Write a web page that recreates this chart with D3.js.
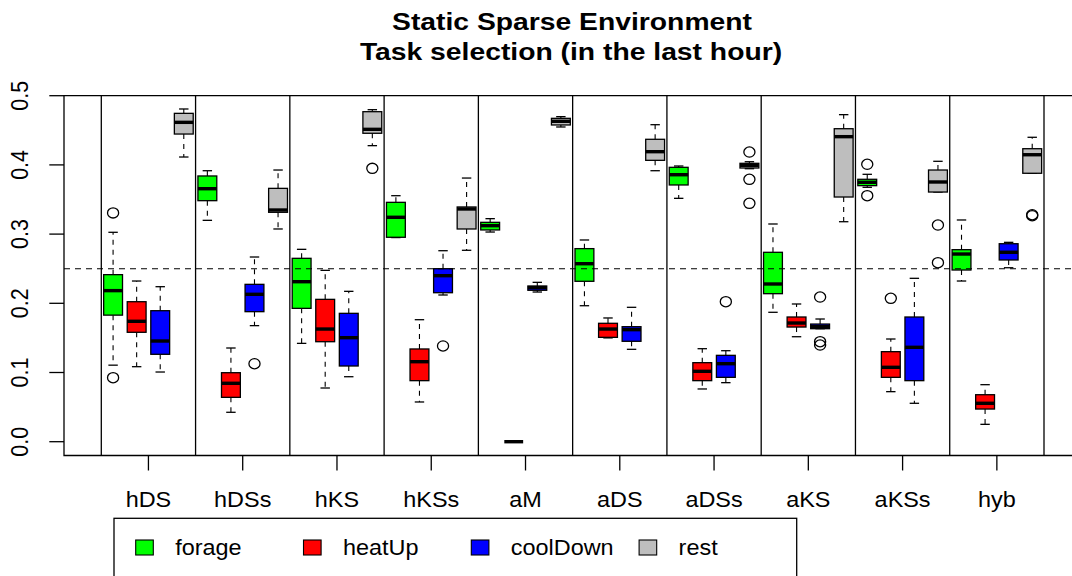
<!DOCTYPE html>
<html>
<head>
<meta charset="utf-8">
<script src="https://cdn.jsdelivr.net/npm/d3@7"></script>
<style>
  html, body { margin: 0; padding: 0; background: #fff; }
  svg { display: block; font-family: "Liberation Sans", Arial, Helvetica, sans-serif; }
</style>
</head>
<body>
<svg id="chart" width="1072" height="576"></svg>
<script>
// Groups (strategies) along the x axis and the four tasks per group
const groups = ["hDS", "hDSs", "hKS", "hKSs", "aM", "aDS", "aDSs", "aKS", "aKSs", "hyb"];
const tasks = ["forage", "heatUp", "coolDown", "rest"];
const taskColors = ["#00ff00", "#ff0000", "#0000ff", "#bebebe"];
const yTicks = [0.0, 0.1, 0.2, 0.3, 0.4, 0.5];
const yTickLabels = ["0.0", "0.1", "0.2", "0.3", "0.4", "0.5"];
const referenceLevel = 0.25;

// Five-number summaries per group: [lower whisker, Q1, median, Q3, upper whisker]
const forageStats = [
  [0.1106, 0.1829, 0.2183, 0.2414, 0.3026],
  [0.3199, 0.3483, 0.3656, 0.3840, 0.3916],
  [0.1421, 0.1927, 0.2312, 0.2650, 0.2780],
  [0.2950, 0.2954, 0.3243, 0.3459, 0.3555],
  [0.3030, 0.3060, 0.3122, 0.3170, 0.3223],
  [0.1965, 0.2318, 0.2572, 0.2790, 0.2915],
  [0.3517, 0.3710, 0.3858, 0.3965, 0.3984],
  [0.1870, 0.2139, 0.2279, 0.2737, 0.3146],
  [0.3676, 0.3700, 0.3748, 0.3792, 0.3864],
  [0.2322, 0.2481, 0.2712, 0.2775, 0.3204]
];
const heatUpStats = [
  [0.1084, 0.1581, 0.1740, 0.2023, 0.2322],
  [0.0425, 0.0641, 0.0844, 0.0997, 0.1354],
  [0.0776, 0.1445, 0.1628, 0.2057, 0.2476],
  [0.0574, 0.0882, 0.1156, 0.1340, 0.1763],
  [0.0000, 0.0000, 0.0000, 0.0000, 0.0000],
  [0.1500, 0.1508, 0.1628, 0.1711, 0.1788],
  [0.0762, 0.0882, 0.1017, 0.1142, 0.1344],
  [0.1517, 0.1657, 0.1715, 0.1802, 0.1990],
  [0.0723, 0.0930, 0.1075, 0.1301, 0.1484],
  [0.0251, 0.0472, 0.0555, 0.0679, 0.0824]
];
const coolDownStats = [
  [0.1007, 0.1263, 0.1455, 0.1893, 0.2240],
  [0.1677, 0.1879, 0.2130, 0.2274, 0.2669],
  [0.0939, 0.1094, 0.1503, 0.1855, 0.2173],
  [0.2120, 0.2153, 0.2399, 0.2500, 0.2760],
  [0.2163, 0.2188, 0.2226, 0.2250, 0.2303],
  [0.1335, 0.1451, 0.1619, 0.1662, 0.1942],
  [0.0853, 0.0930, 0.1127, 0.1248, 0.1315],
  [0.1633, 0.1633, 0.1662, 0.1700, 0.1773],
  [0.0555, 0.0882, 0.1364, 0.1802, 0.2361],
  [0.2514, 0.2626, 0.2737, 0.2861, 0.2881]
];
const restStats = [
  [0.4114, 0.4446, 0.4615, 0.4745, 0.4808],
  [0.3074, 0.3315, 0.3348, 0.3661, 0.3926],
  [0.4278, 0.4457, 0.4514, 0.4769, 0.4798],
  [0.2766, 0.3074, 0.3363, 0.3392, 0.3810],
  [0.4548, 0.4577, 0.4630, 0.4673, 0.4697],
  [0.3916, 0.4066, 0.4191, 0.4370, 0.4581],
  [0.3945, 0.3955, 0.3994, 0.4023, 0.4046],
  [0.3179, 0.3536, 0.4408, 0.4523, 0.4726],
  [0.3608, 0.3608, 0.3753, 0.3926, 0.4052],
  [0.3879, 0.3879, 0.4147, 0.4234, 0.4399]
];

// Outlying points per group
const forageOutliers = [[0.3306, 0.0925], [], [], [], [], [], [], [], [0.4009, 0.3555], []];
const heatUpOutliers = [[], [], [], [], [], [], [], [], [0.2072], []];
const coolDownOutliers = [[], [0.1127], [], [0.1383], [], [], [0.2023], [0.2091, 0.1445, 0.1397], [], []];
const restOutliers = [[], [], [0.3950], [], [], [], [0.4186, 0.3792, 0.3445], [], [0.3131, 0.2587], [0.3266, 0.3280]];

const allStats = [forageStats, heatUpStats, coolDownStats, restStats];
const allOutliers = [forageOutliers, heatUpOutliers, coolDownOutliers, restOutliers];

// ---- layout ----
const svg = d3.select("#chart");
const SX = 1.09;          // horizontal glyph stretch of the output
const plotLeft = 64, plotTop = 95.7, plotBottom = 455.5, plotRight = 1090;
const nBox = groups.length * tasks.length;

// Box positions 1..40; separators sit at 0.5, 4.5, ...
const x = d3.scaleLinear().domain([0.5, nBox + 0.5]).range([101.3, 1044]);
const y = d3.scaleLinear().domain([0, 0.5]).range([441.7, plotTop]);
const unit = x(2) - x(1);
const boxW = unit * 0.8;
const capW = boxW * 0.5;

function stretchedText(parent, tx, ty, str, size, weight, anchor, rotate, sx) {
  const g = parent.append("g")
    .attr("transform", `translate(${tx},${ty}) scale(${sx || SX},1)` + (rotate ? ` rotate(${rotate})` : ""));
  g.append("text")
    .attr("x", 0).attr("y", 0)
    .attr("text-anchor", anchor || "middle")
    .attr("font-size", size)
    .attr("font-weight", weight || "normal")
    .attr("fill", "#000")
    .text(str);
  return g;
}

// ---- boxes ----
const boxLayer = svg.append("g");
const boxes = [];
groups.forEach((grp, gi) => {
  tasks.forEach((t, ti) => {
    boxes.push({ pos: gi * 4 + ti + 1, s: allStats[ti][gi], out: allOutliers[ti][gi], color: taskColors[ti] });
  });
});

boxes.forEach(b => {
  const cx = x(b.pos);
  const [lo, q1, med, q3, hi] = b.s;
  const g = boxLayer.append("g");
  // whiskers
  g.append("line").attr("x1", cx).attr("x2", cx).attr("y1", y(q3)).attr("y2", y(hi))
    .attr("stroke", "#000").attr("stroke-width", 1.1).attr("stroke-dasharray", "5,5");
  g.append("line").attr("x1", cx).attr("x2", cx).attr("y1", y(q1)).attr("y2", y(lo))
    .attr("stroke", "#000").attr("stroke-width", 1.1).attr("stroke-dasharray", "5,5");
  // staples
  [lo, hi].forEach(v => {
    g.append("line").attr("x1", cx - capW / 2).attr("x2", cx + capW / 2)
      .attr("y1", y(v)).attr("y2", y(v))
      .attr("stroke", "#000").attr("stroke-width", 1.3);
  });
  // box
  g.append("rect")
    .attr("x", cx - boxW / 2).attr("y", y(q3))
    .attr("width", boxW).attr("height", Math.max(0, y(q1) - y(q3)))
    .attr("fill", b.color).attr("stroke", "#000").attr("stroke-width", 1.3);
  // median
  g.append("line").attr("x1", cx - boxW / 2).attr("x2", cx + boxW / 2)
    .attr("y1", y(med)).attr("y2", y(med))
    .attr("stroke", "#000").attr("stroke-width", 3.4);
  // outliers
  b.out.forEach(v => {
    g.append("ellipse").attr("cx", cx).attr("cy", y(v))
      .attr("rx", 5.1 * SX).attr("ry", 5.1)
      .attr("fill", "none").attr("stroke", "#000").attr("stroke-width", 1.3);
  });
});

// ---- reference line and group separators ----
svg.append("line")
  .attr("x1", plotLeft).attr("x2", plotRight)
  .attr("y1", y(referenceLevel)).attr("y2", y(referenceLevel))
  .attr("stroke", "#000").attr("stroke-width", 1.1).attr("stroke-dasharray", "6,5");

d3.range(0, groups.length + 1).forEach(k => {
  const sx = x(k * 4 + 0.5);
  svg.append("line")
    .attr("x1", sx).attr("x2", sx).attr("y1", plotTop).attr("y2", plotBottom)
    .attr("stroke", "#000").attr("stroke-width", 1.3);
});

// ---- plot frame ----
svg.append("path")
  .attr("d", `M${plotRight},${plotTop}H${plotLeft}V${plotBottom}H${plotRight}`)
  .attr("fill", "none").attr("stroke", "#000").attr("stroke-width", 1.3);

// ---- y axis ----
const yAxis = svg.append("g");
yTicks.forEach((v, i) => {
  yAxis.append("line").attr("x1", plotLeft - 14.7).attr("x2", plotLeft)
    .attr("y1", y(v)).attr("y2", y(v)).attr("stroke", "#000").attr("stroke-width", 1.3);
  stretchedText(yAxis, 28.3, y(v), yTickLabels[i], 21.5, "normal", "middle", -90);
});

// ---- x axis ----
const xAxis = svg.append("g");
groups.forEach((grp, gi) => {
  const cx = x(gi * 4 + 2.5);
  xAxis.append("line").attr("x1", cx).attr("x2", cx)
    .attr("y1", plotBottom).attr("y2", plotBottom + 15)
    .attr("stroke", "#000").attr("stroke-width", 1.3);
  stretchedText(xAxis, cx, 507.3, grp, 21.5, "normal", "middle");
});

// ---- title ----
stretchedText(svg, 572, 30, "Static Sparse Environment", 24.5, "bold", "middle", null, 1.155);
stretchedText(svg, 571, 59.5, "Task selection (in the last hour)", 24.5, "bold", "middle", null, 1.155);

// ---- legend ----
const legend = svg.append("g");
legend.append("rect")
  .attr("x", 114).attr("y", 518.3).attr("width", 796.7 - 114).attr("height", 80)
  .attr("fill", "#fff").attr("stroke", "#000").attr("stroke-width", 1.3);
tasks.forEach((t, i) => {
  const lx = 135.7 + i * 167.8;
  legend.append("rect")
    .attr("x", lx).attr("y", 540).attr("width", 17.6).attr("height", 15)
    .attr("fill", taskColors[i]).attr("stroke", "#000").attr("stroke-width", 1.1);
  stretchedText(legend, lx + 39.5, 555, t, 21.5, "normal", "start");
});
</script>
</body>
</html>
